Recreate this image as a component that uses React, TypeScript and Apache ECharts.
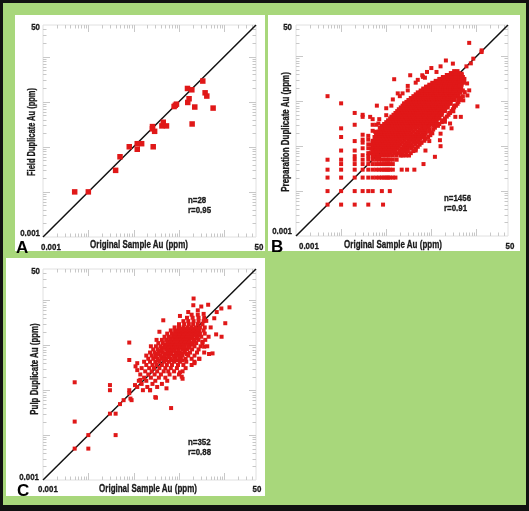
import React, { useEffect, useRef } from "react";
import * as echarts from "echarts";

// ---------- data ----------
const AXIS_MIN = 0.001;
const AXIS_MAX = 50;
const TICK_LABELS = ["0.001", "50"];
const X_TITLE = "Original Sample Au (ppm)";
const Y_TITLES = ["Field Duplicate Au (ppm)", "Preparation Duplicate Au (ppm)", "Pulp Duplicate Au (ppm)"];
const PANEL_LETTERS = ["A", "B", "C"];
const STATS_N = ["n=28", "n=1456", "n=352"];
const STATS_R = ["r=0.95", "r=0.91", "r=0.88"];

const A_POINTS: number[][] = [
  [0.005, 0.01], [0.01, 0.01], [0.04, 0.03], [0.05, 0.06], [0.08, 0.1], [0.12, 0.117], [0.12, 0.088],
  [0.15, 0.117], [0.27, 0.1], [0.26, 0.28], [0.29, 0.22], [0.42, 0.29], [0.45, 0.35], [0.53, 0.29],
  [0.78, 0.78], [0.88, 0.88], [1.54, 1.96], [1.92, 1.83], [1.56, 0.96], [1.67, 1.16], [2.23, 0.76],
  [1.95, 0.32], [3.35, 2.86], [3.77, 1.57], [4.11, 1.33], [5.66, 0.72], [0.26, 0.25], [0.83, 0.83],
];

const B_LOW: number[][] = [
  [0.005, 1.3], [0.005, 0.05], [0.005, 0.03], [0.005, 0.02], [0.005, 0.01], [0.005, 0.005],
  [0.01, 0.9], [0.01, 0.25], [0.01, 0.16], [0.01, 0.08], [0.01, 0.05], [0.01, 0.04], [0.01, 0.03], [0.01, 0.02], [0.01, 0.01], [0.01, 0.005],
  [0.02, 0.55], [0.02, 0.3], [0.02, 0.13], [0.02, 0.08], [0.02, 0.06], [0.02, 0.05], [0.02, 0.04], [0.02, 0.03], [0.02, 0.02], [0.02, 0.01], [0.02, 0.005],
  [0.03, 0.5], [0.03, 0.45], [0.03, 0.18], [0.03, 0.14], [0.03, 0.12], [0.03, 0.09], [0.03, 0.063], [0.03, 0.05], [0.03, 0.04], [0.03, 0.03], [0.03, 0.02], [0.03, 0.01],
  [0.04, 0.17], [0.04, 0.14], [0.04, 0.11], [0.04, 0.09], [0.04, 0.07], [0.04, 0.06], [0.04, 0.05], [0.04, 0.04], [0.04, 0.03], [0.04, 0.02], [0.04, 0.01], [0.04, 0.005],
  [0.05, 0.4], [0.05, 0.22], [0.05, 0.12], [0.05, 0.1], [0.05, 0.085], [0.05, 0.07], [0.05, 0.06], [0.05, 0.05], [0.05, 0.04], [0.05, 0.03], [0.05, 0.02], [0.05, 0.01],
  [0.06, 0.3], [0.06, 0.18], [0.06, 0.13], [0.06, 0.1], [0.06, 0.08], [0.06, 0.06], [0.06, 0.05], [0.06, 0.04], [0.06, 0.03], [0.06, 0.02],
  [0.07, 0.09], [0.07, 0.06], [0.07, 0.05], [0.07, 0.04], [0.07, 0.03], [0.07, 0.02],
  [0.08, 0.05], [0.08, 0.04], [0.08, 0.03], [0.08, 0.02], [0.08, 0.01], [0.085, 0.005],
  [0.09, 0.05], [0.09, 0.04], [0.09, 0.03], [0.09, 0.02],
  [0.1, 0.05], [0.1, 0.04], [0.1, 0.03], [0.1, 0.02],
  [0.11, 0.05], [0.11, 0.04], [0.11, 0.03], [0.11, 0.02],
  [0.12, 0.05], [0.12, 0.04], [0.12, 0.03], [0.12, 0.02], [0.12, 0.01],
  [0.14, 0.05], [0.14, 0.04], [0.14, 0.03], [0.14, 0.02],
  [0.17, 0.05], [0.16, 0.02], [0.22, 0.03], [0.29, 0.03], [0.42, 0.03], [0.67, 0.04], [1.2, 0.058], [1.6, 0.1],
];

const B_CLOUD_ROWS: [number, number[]][] = [
  [0.062, [0.052, 0.068, 0.083, 0.097, 0.115, 0.14, 0.17, 0.21, 0.27, 0.23, 0.32]],
  [0.07, [0.045, 0.056, 0.064, 0.078, 0.09, 0.105, 0.125, 0.15, 0.18, 0.23, 0.35, 0.2, 0.28]],
  [0.078, [0.05, 0.06, 0.072, 0.085, 0.1, 0.118, 0.135, 0.16, 0.2, 0.26, 0.23, 0.3, 0.4]],
  [0.088, [0.047, 0.058, 0.066, 0.08, 0.093, 0.11, 0.13, 0.15, 0.18, 0.22, 0.3, 0.45, 0.26, 0.36]],
  [0.097, [0.052, 0.061, 0.073, 0.087, 0.1, 0.12, 0.14, 0.165, 0.19, 0.24, 0.33, 0.28, 0.38, 0.5]],
  [0.108, [0.048, 0.057, 0.068, 0.08, 0.094, 0.11, 0.128, 0.15, 0.175, 0.21, 0.26, 0.36, 0.55, 0.31, 0.44]],
  [0.12, [0.055, 0.064, 0.075, 0.088, 0.102, 0.12, 0.14, 0.16, 0.19, 0.23, 0.28, 0.4, 0.33, 0.48, 0.6]],
  [0.132, [0.05, 0.06, 0.07, 0.082, 0.096, 0.112, 0.13, 0.15, 0.175, 0.205, 0.25, 0.31, 0.43, 0.7, 0.36, 0.52]],
  [0.146, [0.058, 0.067, 0.078, 0.09, 0.105, 0.122, 0.142, 0.165, 0.19, 0.22, 0.27, 0.34, 0.48, 0.4, 0.56, 0.75]],
  [0.16, [0.055, 0.064, 0.074, 0.086, 0.1, 0.116, 0.135, 0.155, 0.18, 0.21, 0.245, 0.29, 0.37, 0.52, 0.85, 0.43, 0.62]],
  [0.176, [0.062, 0.072, 0.083, 0.096, 0.11, 0.128, 0.148, 0.17, 0.2, 0.23, 0.27, 0.32, 0.4, 0.6, 0.47, 0.52, 0.7, 0.95]],
  [0.194, [0.06, 0.07, 0.08, 0.093, 0.107, 0.123, 0.142, 0.164, 0.19, 0.22, 0.255, 0.3, 0.36, 0.45, 0.65, 0.52, 0.75, 1.05]],
  [0.213, [0.068, 0.078, 0.09, 0.104, 0.12, 0.138, 0.16, 0.185, 0.21, 0.245, 0.28, 0.33, 0.4, 0.5, 0.75, 0.58, 0.66, 0.9]],
  [0.235, [0.075, 0.086, 0.1, 0.115, 0.132, 0.152, 0.175, 0.2, 0.23, 0.27, 0.31, 0.36, 0.44, 0.56, 0.9, 0.64, 0.74, 1.1]],
  [0.258, [0.072, 0.083, 0.096, 0.11, 0.127, 0.146, 0.168, 0.194, 0.224, 0.26, 0.3, 0.35, 0.41, 0.5, 0.62, 0.72, 0.85, 1.2]],
  [0.284, [0.08, 0.092, 0.106, 0.122, 0.14, 0.162, 0.186, 0.215, 0.25, 0.29, 0.33, 0.39, 0.46, 0.56, 0.7, 1.1, 0.8, 0.9, 1.4]],
  [0.312, [0.09, 0.104, 0.12, 0.138, 0.158, 0.182, 0.21, 0.24, 0.28, 0.32, 0.37, 0.43, 0.51, 0.62, 0.8, 0.72, 0.9, 1.05, 1.5]],
  [0.343, [0.1, 0.115, 0.132, 0.152, 0.175, 0.2, 0.23, 0.265, 0.305, 0.35, 0.4, 0.47, 0.56, 0.68, 0.9, 1.3, 0.78, 1.05, 1.15, 1.7]],
  [0.377, [0.11, 0.127, 0.146, 0.168, 0.193, 0.222, 0.255, 0.29, 0.335, 0.385, 0.44, 0.51, 0.6, 0.72, 0.95, 0.82, 1.1, 1.3, 1.8]],
  [0.415, [0.122, 0.14, 0.16, 0.185, 0.21, 0.245, 0.28, 0.32, 0.37, 0.42, 0.48, 0.56, 0.66, 0.8, 1.05, 1.5, 0.92, 1.22, 1.35, 2.0]],
  [0.456, [0.13, 0.15, 0.173, 0.2, 0.23, 0.265, 0.305, 0.35, 0.4, 0.46, 0.53, 0.61, 0.72, 0.86, 1.1, 0.98, 1.3, 1.5, 2.2]],
  [0.5, [0.145, 0.167, 0.19, 0.22, 0.253, 0.29, 0.335, 0.385, 0.44, 0.5, 0.58, 0.67, 0.78, 0.93, 1.2, 1.7, 1.05, 1.4, 1.6, 2.4]],
  [0.55, [0.16, 0.185, 0.21, 0.24, 0.28, 0.32, 0.37, 0.42, 0.48, 0.55, 0.63, 0.73, 0.85, 1.0, 1.25, 1.12, 1.45, 1.7, 2.6]],
  [0.605, [0.175, 0.2, 0.23, 0.265, 0.305, 0.35, 0.4, 0.46, 0.53, 0.61, 0.7, 0.8, 0.93, 1.1, 1.4, 2.0, 1.25, 1.6, 1.8, 2.8]],
  [0.665, [0.19, 0.22, 0.255, 0.29, 0.335, 0.385, 0.44, 0.5, 0.58, 0.67, 0.77, 0.88, 1.02, 1.2, 1.5, 1.35, 1.75, 2.0, 3.0]],
  [0.73, [0.21, 0.24, 0.28, 0.32, 0.37, 0.42, 0.48, 0.55, 0.63, 0.73, 0.84, 0.97, 1.12, 1.3, 1.6, 2.3, 1.45, 1.9, 2.1, 3.2]],
  [0.8, [0.23, 0.265, 0.305, 0.35, 0.4, 0.46, 0.53, 0.61, 0.7, 0.8, 0.92, 1.06, 1.22, 1.42, 1.75, 1.6, 2.0, 2.3, 3.5]],
  [0.88, [0.25, 0.29, 0.335, 0.385, 0.44, 0.5, 0.58, 0.67, 0.77, 0.88, 1.0, 1.15, 1.33, 1.55, 1.9, 2.6, 1.75, 2.2, 2.4, 3.8]],
  [0.97, [0.28, 0.32, 0.37, 0.42, 0.48, 0.55, 0.63, 0.73, 0.84, 0.97, 1.1, 1.27, 1.46, 1.7, 2.1, 1.9, 2.4, 2.7, 4.0]],
  [1.07, [0.31, 0.36, 0.41, 0.47, 0.54, 0.62, 0.71, 0.81, 0.93, 1.07, 1.22, 1.4, 1.6, 1.85, 2.3, 3.0, 2.05, 2.6, 3.3, 4.3]],
  [1.18, [0.35, 0.4, 0.46, 0.52, 0.6, 0.68, 0.78, 0.9, 1.03, 1.18, 1.35, 1.55, 1.78, 2.05, 2.5, 2.25, 2.8, 3.2, 4.6]],
  [1.3, [0.4, 0.45, 0.52, 0.59, 0.67, 0.76, 0.87, 1.0, 1.14, 1.3, 1.48, 1.7, 1.95, 2.25, 2.7, 3.4, 2.45, 3.0, 4.0, 5.0]],
  [1.43, [0.45, 0.51, 0.58, 0.66, 0.75, 0.86, 0.98, 1.12, 1.27, 1.45, 1.65, 1.88, 2.15, 2.5, 3.0, 2.7, 3.4, 4.0]],
  [1.58, [0.5, 0.57, 0.65, 0.74, 0.84, 0.96, 1.09, 1.24, 1.41, 1.6, 1.82, 2.07, 2.36, 2.7, 3.3, 2.95, 3.7, 4.4]],
  [1.74, [0.58, 0.66, 0.75, 0.85, 0.97, 1.1, 1.25, 1.42, 1.61, 1.83, 2.08, 2.36, 2.7, 3.1, 3.7, 3.35, 4.2, 5.0]],
  [1.92, [0.66, 0.75, 0.86, 0.98, 1.11, 1.26, 1.43, 1.62, 1.84, 2.09, 2.37, 2.7, 3.05, 3.5, 3.3, 3.9, 4.6]],
  [2.12, [0.76, 0.87, 0.99, 1.12, 1.27, 1.44, 1.64, 1.86, 2.1, 2.4, 2.7, 3.1, 3.5, 4.0, 3.75, 4.5]],
  [2.34, [0.9, 1.02, 1.16, 1.32, 1.5, 1.7, 1.93, 2.2, 2.5, 2.83, 3.2, 3.65, 4.2, 3.9, 4.7]],
  [2.58, [1.05, 1.2, 1.36, 1.55, 1.76, 2.0, 2.27, 2.58, 2.93, 3.3, 3.8, 4.4, 4.1, 5.0]],
  [2.85, [1.25, 1.42, 1.62, 1.84, 2.09, 2.37, 2.7, 3.05, 3.45, 3.95, 4.6, 4.2, 5.2]],
  [3.15, [1.5, 1.72, 1.96, 2.22, 2.52, 2.86, 3.25, 3.7, 4.2, 4.6, 5.4]],
  [3.48, [1.8, 2.05, 2.33, 2.65, 3.0, 3.4, 3.9, 4.5, 4.2, 5.0]],
  [3.85, [2.2, 2.5, 2.85, 3.25, 3.7, 4.2, 4.7]],
  [4.25, [2.7, 3.1, 3.55, 4.1]],
  [4.7, [3.2, 3.8]],
];

const B_OUTLIERS: number[][] = [
  [6.9, 20], [13, 12.5], [13, 13.6], [8.5, 8.9], [2.1, 8.1], [3.0, 6.9], [6.0, 6.0], [7.5, 7.0], [4.7, 4.1],
  [3.5, 4.1], [1.3, 4.5], [0.34, 3.8], [0.63, 3.8], [0.65, 3.5], [0.72, 3.35], [4.7, 3.35], [5.3, 2.7],
  [0.15, 3.1], [0.18, 1.5], [0.23, 1.5], [0.3, 1.75], [10.5, 0.77], [3.4, 0.45], [4.5, 0.45], [3.07, 0.6],
  [2.6, 0.32], [5.1, 1.05], [6.3, 1.35], [6.9, 1.75], [1.6, 0.19], [0.74, 0.08], [1.55, 0.136], [1.85, 0.26],
  [0.044, 0.45], [0.062, 0.8], [0.13, 0.8], [0.1, 0.49], [0.067, 0.32], [0.079, 0.25], [0.057, 0.21],
  [1.0, 0.2], [1.3, 0.3], [2.0, 0.35], [2.5, 0.55], [3.2, 0.8], [4.0, 1.1], [5.5, 1.6], [4.2, 2.2], [6.2, 2.5],
  [2.8, 0.25], [0.9, 0.13], [0.6, 0.12], [0.45, 0.08], [0.1, 0.7], [0.14, 1.1], [0.2, 1.3], [0.3, 2.2],
  [0.45, 2.6], [0.5, 3.0], [0.8, 4.5], [1.0, 5.5], [1.6, 6.0], [0.25, 0.9], [0.07, 0.4], [0.05, 0.3],
];

const C_CLOUD_ROWS: [number, number[]][] = [
  [0.1, [0.16, 0.23]],
  [0.118, [0.12, 0.2, 0.33]],
  [0.138, [0.15, 0.26, 0.42]],
  [0.162, [0.13, 0.19, 0.3, 0.55]],
  [0.19, [0.17, 0.24, 0.36, 0.5, 0.8]],
  [0.224, [0.14, 0.21, 0.29, 0.4, 0.62, 1.0]],
  [0.263, [0.18, 0.25, 0.33, 0.46, 0.58, 0.78, 1.2]],
  [0.31, [0.15, 0.22, 0.28, 0.37, 0.5, 0.66, 0.9, 1.4]],
  [0.364, [0.19, 0.26, 0.32, 0.42, 0.54, 0.7, 0.95, 1.25, 1.9]],
  [0.43, [0.17, 0.23, 0.3, 0.37, 0.47, 0.6, 0.78, 1.05, 1.45, 2.2]],
  [0.46, [0.35, 0.5, 0.7, 0.92, 1.2]],
  [0.5, [0.21, 0.27, 0.34, 0.42, 0.52, 0.66, 0.85, 1.1, 1.4, 1.9, 2.8]],
  [0.545, [0.3, 0.45, 0.58, 0.8, 1.05]],
  [0.59, [0.19, 0.25, 0.31, 0.39, 0.48, 0.6, 0.75, 0.95, 1.2, 1.6, 2.2]],
  [0.64, [0.34, 0.5, 0.66, 0.88, 1.15, 1.5]],
  [0.69, [0.23, 0.29, 0.36, 0.44, 0.55, 0.68, 0.85, 1.05, 1.35, 1.75, 2.5, 3.6]],
  [0.75, [0.4, 0.58, 0.75, 0.98, 1.3]],
  [0.81, [0.27, 0.34, 0.42, 0.52, 0.64, 0.78, 0.96, 1.2, 1.5, 1.95, 2.7]],
  [0.88, [0.45, 0.55, 0.7, 0.85, 1.05, 1.3, 1.65]],
  [0.95, [0.24, 0.31, 0.39, 0.48, 0.6, 0.73, 0.9, 1.1, 1.35, 1.7, 2.2, 3.0, 4.2]],
  [1.03, [0.5, 0.64, 0.8, 1.0, 1.25, 1.6, 2.0]],
  [1.12, [0.35, 0.44, 0.55, 0.68, 0.83, 1.0, 1.22, 1.5, 1.85, 2.4, 3.3]],
  [1.22, [0.58, 0.72, 0.9, 1.1, 1.35, 1.65, 2.2]],
  [1.32, [0.32, 0.42, 0.52, 0.64, 0.78, 0.95, 1.15, 1.4, 1.7, 2.1, 2.7, 3.8]],
  [1.43, [0.65, 0.82, 1.0, 1.25, 1.5, 1.85, 2.5]],
  [1.55, [0.48, 0.6, 0.74, 0.9, 1.1, 1.32, 1.6, 1.95, 2.4, 3.1, 4.5]],
  [1.68, [0.8, 1.0, 1.2, 1.45, 1.75, 2.15, 2.7]],
  [1.82, [0.55, 0.7, 0.86, 1.05, 1.28, 1.55, 1.9, 2.3, 2.9, 3.7]],
  [1.98, [0.95, 1.15, 1.4, 1.7, 2.05, 2.5]],
  [2.14, [0.66, 0.82, 1.0, 1.22, 1.5, 1.85, 2.25, 2.8, 3.5]],
  [2.3, [1.1, 1.4, 1.7, 2.1, 2.6]],
  [2.5, [0.8, 1.0, 1.25, 1.55, 1.9, 2.35, 2.9, 3.7]],
  [2.95, [1.0, 1.3, 1.65, 2.05, 2.6, 3.3]],
  [3.45, [1.25, 1.6, 2.1, 2.7, 3.5]],
  [4.1, [1.5, 2.0, 2.7, 3.6]],
  [4.8, [1.9, 2.6]],
];

const C_OUTLIERS: number[][] = [
  [2.1, 11], [2.07, 7.8], [3.1, 7.3], [4.4, 8], [6.8, 5.5], [8.6, 6.6], [13, 7], [10.5, 3.1], [6.6, 1.75],
  [8.7, 1.55], [5.5, 0.66], [4.6, 0.64], [3.6, 0.93], [1.15, 0.2], [0.67, 0.04], [0.31, 0.068], [0.45, 3.6],
  [1.05, 4.5], [0.37, 2.0], [0.08, 1.15], [0.08, 0.47], [0.12, 0.4], [0.11, 0.34], [0.12, 0.28],
  [0.005, 0.15], [0.005, 0.02], [0.005, 0.005], [0.01, 0.01], [0.01, 0.005], [0.04, 0.01], [0.03, 0.13],
  [0.03, 0.1], [0.03, 0.03], [0.04, 0.03], [0.05, 0.049], [0.06, 0.06], [0.08, 0.1], [0.08, 0.086],
  [0.085, 0.065], [0.09, 0.06], [0.107, 0.13], [0.14, 0.17], [0.23, 0.1], [0.3, 0.07], [0.53, 0.11],
  [1.2, 0.18], [1.05, 0.25], [2.8, 0.5], [2.2, 0.4], [3.3, 1.2], [5.0, 2.5], [4.0, 3.5], [6.0, 4.0],
  [3.5, 5.0], [1.6, 5.5], [2.6, 6.0],
];

const TICK_MANTISSAS = [1, 2, 3, 4, 5, 6, 7, 8, 9];
const TICK_DECADES = [0.001, 0.01, 0.1, 1, 10];

// ---------- layout ----------
const W = 529;
const H = 511;
const FONT = "'Liberation Sans', Arial, sans-serif";
const PANELS = [
  { x: 15, y: 15, w: 250, h: 236 },
  { x: 268, y: 15, w: 252, h: 236 },
  { x: 6, y: 258, w: 259, h: 238 },
];
const GRIDS = [
  { left: 43, top: 25, width: 213, height: 212 },
  { left: 296, top: 25, width: 212, height: 211 },
  { left: 43, top: 269, width: 213, height: 211 },
];
const SYMBOL_SIZES = [5.5, 4, 4];

function rowsToPoints(rows: [number, number[]][]): number[][] {
  return rows.flatMap(([y, xs]) => xs.map((x) => [x, y]));
}

export default function App() {
  const ref = useRef<HTMLDivElement>(null);
  useEffect(() => {
    if (!ref.current) return;
    const chart = echarts.init(ref.current, undefined, { renderer: "svg" });

    const panelData = [
      A_POINTS,
      [...B_LOW, ...rowsToPoints(B_CLOUD_ROWS), ...B_OUTLIERS],
      [...rowsToPoints(C_CLOUD_ROWS), ...C_OUTLIERS],
    ];

    const tickData: number[][] = [];
    TICK_DECADES.forEach((d) =>
      TICK_MANTISSAS.forEach((m) => {
        const v = +(m * d).toPrecision(3);
        if (v > AXIS_MIN && v < AXIS_MAX) tickData.push([v, v, m === 1 ? 1 : 0]);
      })
    );

    const xAxis: any[] = [];
    const yAxis: any[] = [];
    const series: any[] = [];
    GRIDS.forEach((_, i) => {
      const ax = {
        type: "log",
        logBase: 10,
        min: AXIS_MIN,
        max: AXIS_MAX,
        gridIndex: i,
        axisLabel: { show: false },
        axisTick: { show: false },
        axisLine: { show: false },
        splitLine: { show: false },
      };
      xAxis.push({ ...ax });
      yAxis.push({ ...ax });
      series.push({
        type: "custom",
        xAxisIndex: i,
        yAxisIndex: i,
        z: 1,
        silent: true,
        data: tickData,
        renderItem: (params: any, api: any) => {
          const v = api.value(0);
          const major = api.value(2) === 1;
          const p0 = api.coord([AXIS_MIN, AXIS_MIN]);
          const p1 = api.coord([AXIS_MAX, AXIS_MAX]);
          const px = Math.round(api.coord([v, AXIS_MIN])[0]) + 0.5;
          const py = Math.round(api.coord([AXIS_MIN, v])[1]) + 0.5;
          const L = major ? 7 : 3.5;
          const style = { stroke: "#c8c8c8", lineWidth: 1 };
          return {
            type: "group",
            children: [
              { type: "line", shape: { x1: px, y1: p0[1], x2: px, y2: p0[1] - L }, style },
              { type: "line", shape: { x1: px, y1: p1[1], x2: px, y2: p1[1] + L }, style },
              { type: "line", shape: { x1: p0[0], y1: py, x2: p0[0] + L, y2: py }, style },
              { type: "line", shape: { x1: p1[0], y1: py, x2: p1[0] - L, y2: py }, style },
            ],
          };
        },
      });
      series.push({
        type: "line",
        xAxisIndex: i,
        yAxisIndex: i,
        z: 2,
        silent: true,
        symbol: "none",
        data: [
          [AXIS_MIN, AXIS_MIN],
          [AXIS_MAX, AXIS_MAX],
        ],
        lineStyle: { color: "#111", width: 1.5 },
      });
      series.push({
        type: "scatter",
        xAxisIndex: i,
        yAxisIndex: i,
        z: 3,
        symbol: "rect",
        symbolSize: SYMBOL_SIZES[i],
        data: panelData[i],
        itemStyle: { color: "#e01818", opacity: 1 },
      });
    });

    const txt = (text: string, x: number, y: number, font: string, align: string, extra: any = {}) => ({
      type: "text",
      x,
      y,
      z: 20,
      ...extra,
      style: {
        text,
        x: 0,
        y: 0,
        fill: "#1a1a1a",
        stroke: "#1a1a1a",
        lineWidth: 0.3,
        font,
        align,
        verticalAlign: "middle",
      },
    });

    const LABEL_POS = [
      { yMax: [40, 27], yMin: [40, 233], xMin: [41, 247], xMax: [259, 247], title: [139, 245], letter: [16, 247], n: [188, 200], r: [188, 210], ytitle: [32, 132], yScale: 0.75 },
      { yMax: [292, 27], yMin: [292, 231], xMin: [299, 245.5], xMax: [510, 245.5], title: [393, 245], letter: [271, 246], n: [444, 198], r: [444, 208], ytitle: [286, 132], yScale: 0.8 },
      { yMax: [40, 271], yMin: [39, 477], xMin: [38, 489], xMax: [257, 489], title: [148, 489], letter: [17, 490], n: [188, 442], r: [188, 452], ytitle: [35, 369], yScale: 0.79 },
    ];

    const small = `bold 9px ${FONT}`;
    const titleFont = `bold 10px ${FONT}`;
    const letterFont = `bold 17px ${FONT}`;
    const narrow = { scaleX: 0.88 };

    const graphic: any[] = [
      { type: "rect", z: 0, shape: { x: 0, y: 0, width: W, height: H }, style: { fill: "#111" } },
      { type: "rect", z: 0, shape: { x: 3, y: 3, width: W - 6, height: H - 9 }, style: { fill: "#a8d77b" } },
    ];
    PANELS.forEach((p) =>
      graphic.push({ type: "rect", z: 0, shape: { x: p.x, y: p.y, width: p.w, height: p.h }, style: { fill: "#fff" } })
    );
    LABEL_POS.forEach((L, i) => {
      graphic.push(txt(TICK_LABELS[1], L.yMax[0], L.yMax[1], small, "right", narrow));
      graphic.push(txt(TICK_LABELS[0], L.yMin[0], L.yMin[1], small, "right", narrow));
      graphic.push(txt(TICK_LABELS[0], L.xMin[0], L.xMin[1], small, "left", narrow));
      graphic.push(txt(TICK_LABELS[1], L.xMax[0], L.xMax[1], small, "center", narrow));
      graphic.push(txt(X_TITLE, L.title[0], L.title[1], titleFont, "center", { scaleX: 0.8 }));
      graphic.push(txt(Y_TITLES[i], L.ytitle[0], L.ytitle[1], titleFont, "center", { rotation: Math.PI / 2, scaleX: L.yScale }));
      const letter = txt(PANEL_LETTERS[i], L.letter[0], L.letter[1], letterFont, "left");
      letter.style.fill = "#000";
      letter.style.lineWidth = 0;
      graphic.push(letter);
      graphic.push(txt(STATS_N[i], L.n[0], L.n[1], small, "left", narrow));
      graphic.push(txt(STATS_R[i], L.r[0], L.r[1], small, "left", narrow));
    });

    chart.setOption({
      animation: false,
      grid: GRIDS.map((g) => ({ ...g, show: true, z: 1, borderColor: "#e0e0e0", borderWidth: 1, backgroundColor: "transparent" })),
      xAxis,
      yAxis,
      series,
      graphic: { elements: graphic },
    });
    return () => chart.dispose();
  }, []);
  return <div ref={ref} style={{ position: "fixed", left: 0, top: 0, width: W, height: H }} />;
}
